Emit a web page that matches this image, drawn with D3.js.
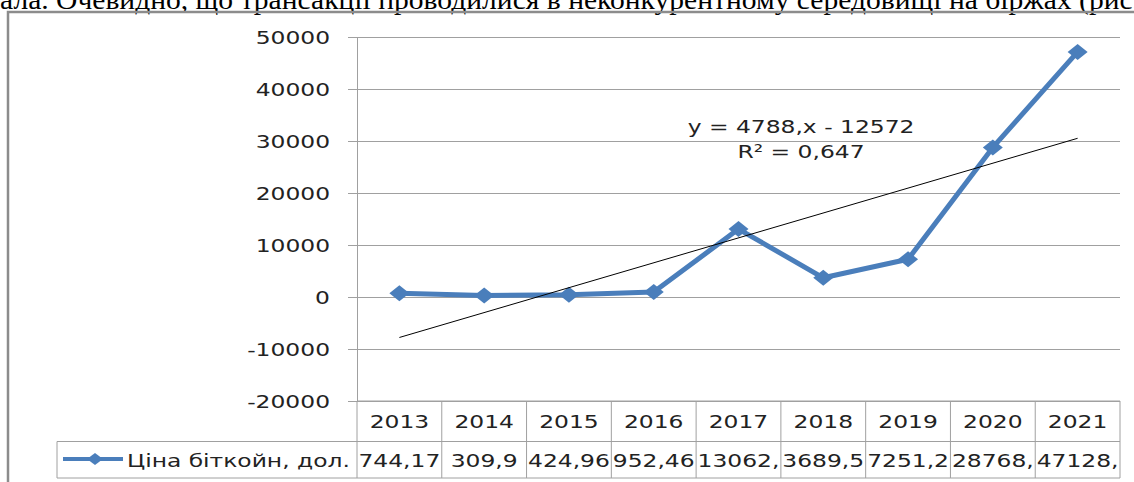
<!DOCTYPE html>
<html>
<head>
<meta charset="utf-8">
<title>Bitcoin price</title>
<script src="https://d3js.org/d3.v7.min.js"></script>
<style>
  body { margin: 0; background: #fff; }
  svg text { font-family: "DejaVu Sans", sans-serif; font-size: 18px; fill: #222; }
</style>
</head>
<body>
<script>
var caption = 'ала. Очевидно, що трансакції проводилися в неконкурентному середовищі на біржах (рис.';
var years = ['2013', '2014', '2015', '2016', '2017', '2018', '2019', '2020', '2021'];
var prices = [744.17, 309.9, 424.96, 952.46, 13062.4, 3689.5, 7251.2, 28768.4, 47128.3];
var priceLabels = ['744,17', '309,9', '424,96', '952,46', '13062,', '3689,5', '7251,2', '28768,', '47128,'];
var yTicks = [-20000, -10000, 0, 10000, 20000, 30000, 40000, 50000];
var seriesName = 'Ціна біткойн, дол.';
var trendSlope = 4788, trendIntercept = -12572;
var trendLabels = ['y = 4788,x - 12572', 'R\u00b2 = 0,647'];

var W = 1134, H = 482;
var sx = 1.3; // text in the source is stretched horizontally
var blue = '#4a7ebb', grid = '#a0a0a0';

var svg = d3.select('body').append('svg').attr('width', W).attr('height', H);

function txt(parent, x, y, s, anchor) {
    return parent.append('text')
        .attr('transform', 'translate(' + x + ',' + y + ') scale(' + sx + ',1)')
        .attr('text-anchor', anchor || 'start')
        .text(s);
}

// cut-off line of body text above the chart
svg.append('text')
    .attr('x', 0).attr('y', 9)
    .attr('textLength', 1140).attr('lengthAdjust', 'spacingAndGlyphs')
    .style('font-family', '"Liberation Serif", serif')
    .style('font-size', '28px').style('fill', '#000')
    .text(caption);

// chart frame
svg.append('path')
    .attr('d', 'M8,' + H + 'V12H' + W)
    .attr('fill', 'none').attr('stroke', '#8c8c8c').attr('stroke-width', 2.5);

var plotL = 357, plotR = 1120, plotT = 37, plotB = 401;
var x = d3.scaleBand().domain(years).range([plotL, plotR]).padding(0);
var cx = function (d) { return x(d) + x.bandwidth() / 2; };
var y = d3.scaleLinear().domain([-20000, 50000]).range([plotB, plotT]);

// gridlines
svg.append('g')
    .attr('transform', 'translate(' + plotL + ',0)')
    .call(d3.axisLeft(y).tickValues(yTicks).tickSize(-(plotR - plotL)).tickFormat(''))
    .call(function (g) { g.select('.domain').remove(); })
    .selectAll('line').attr('stroke', grid);

// y axis (plain hyphen for negatives, as in the source)
var ya = svg.append('g')
    .attr('transform', 'translate(' + plotL + ',0)')
    .call(d3.axisLeft(y).tickValues(yTicks).tickSize(9).tickSizeOuter(0)
        .tickFormat(function (d) { return String(d); }));
ya.select('.domain').attr('stroke', grid);
ya.selectAll('line').attr('stroke', grid);
ya.selectAll('text')
    .attr('x', -27 / sx).attr('dy', '0.36em')
    .attr('transform', 'scale(' + sx + ',1)')
    .style('font-family', '"DejaVu Sans", sans-serif').style('font-size', '18px').attr('fill', '#222');

// data table under the axis
var rowTop = plotB, rowMid = 441.5, rowBot = 478, legLeft = 57;
var tbl = svg.append('g').attr('stroke', grid).attr('fill', 'none');
tbl.append('line').attr('x1', plotL).attr('x2', plotR).attr('y1', rowTop).attr('y2', rowTop);
tbl.append('line').attr('x1', legLeft).attr('x2', plotR).attr('y1', rowMid).attr('y2', rowMid);
tbl.append('line').attr('x1', legLeft).attr('x2', plotR).attr('y1', rowBot).attr('y2', rowBot);
tbl.append('line').attr('x1', legLeft).attr('x2', legLeft).attr('y1', rowMid).attr('y2', rowBot);
tbl.selectAll('.col').data(years.concat(['end'])).enter().append('line')
    .attr('x1', function (d, i) { return plotL + i * x.bandwidth(); })
    .attr('x2', function (d, i) { return plotL + i * x.bandwidth(); })
    .attr('y1', rowTop).attr('y2', rowBot);

years.forEach(function (d, i) {
    txt(svg, cx(d), 428, d, 'middle');
    txt(svg, cx(d), 467, priceLabels[i], 'middle');
});

// legend key
svg.append('line').attr('x1', 63).attr('x2', 123).attr('y1', 459).attr('y2', 459)
    .attr('stroke', blue).attr('stroke-width', 4);
svg.append('path').attr('d', 'M95,453L103,459L95,465L87,459Z').attr('fill', blue);
txt(svg, 127, 467, seriesName);

// series line + markers
var line = d3.line().x(function (d, i) { return cx(years[i]); }).y(function (d) { return y(d); });
svg.append('path').datum(prices).attr('d', line)
    .attr('fill', 'none').attr('stroke', blue).attr('stroke-width', 5).attr('stroke-linejoin', 'round');
svg.selectAll('.mk').data(prices).enter().append('path')
    .attr('d', 'M0,-8L10,0L0,8L-10,0Z')
    .attr('transform', function (d, i) { return 'translate(' + cx(years[i]) + ',' + y(d) + ')'; })
    .attr('fill', blue);

// linear trendline
svg.append('line')
    .attr('x1', cx(years[0])).attr('y1', y(trendSlope * 1 + trendIntercept))
    .attr('x2', cx(years[8])).attr('y2', y(trendSlope * 9 + trendIntercept))
    .attr('stroke', '#000').attr('stroke-width', 1);

txt(svg, 801, 133, trendLabels[0], 'middle');
txt(svg, 801, 158, trendLabels[1], 'middle');
</script>
</body>
</html>
